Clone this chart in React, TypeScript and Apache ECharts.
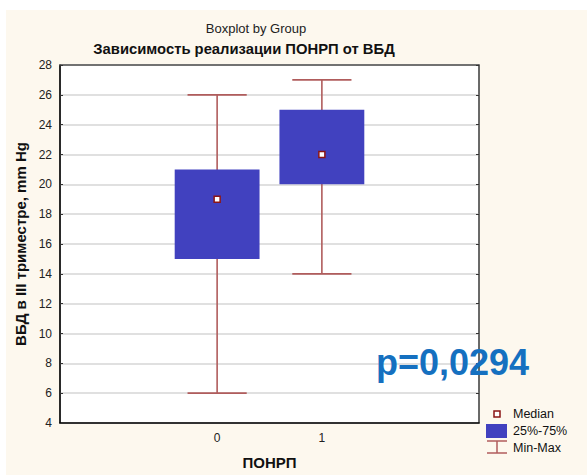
import React, { useEffect, useRef } from "react";
import * as echarts from "echarts";

// Category slots on the horizontal axis (outer slots are empty padding)
const xCategories = ["", "0", "1", ""];
const groups = ["0", "1"];
// Box statistics per group
const minVals = [6, 14];
const q1Vals = [15, 20];
const medianVals = [19, 22];
const q3Vals = [21, 25];
const maxVals = [26, 27];

const FONT = '"Liberation Sans", Arial, sans-serif';
const BOX_COLOR = "#4141bf";
const WHISKER_COLOR = "#b05c5c";
const MEDIAN_STROKE = "#8b1515";

export default function App() {
  const ref = useRef<HTMLDivElement>(null);

  useEffect(() => {
    if (!ref.current) return;
    const chart = echarts.init(ref.current, undefined, { renderer: "svg" });

    const data = groups.map((g, i) => [
      xCategories.indexOf(g),
      minVals[i],
      q1Vals[i],
      medianVals[i],
      q3Vals[i],
      maxVals[i],
    ]);

    const renderItem = (params: any, api: any) => {
      const x = api.value(0);
      const pMin = api.coord([x, api.value(1)]);
      const pQ1 = api.coord([x, api.value(2)]);
      const pMed = api.coord([x, api.value(3)]);
      const pQ3 = api.coord([x, api.value(4)]);
      const pMax = api.coord([x, api.value(5)]);
      const band = api.size([1, 0])[0];
      const boxW = band * 0.81;
      const capW = band * 0.565;
      const cx = pMed[0];
      const whisker = { stroke: WHISKER_COLOR, lineWidth: 1.6 };
      return {
        type: "group",
        children: [
          {
            type: "line",
            shape: { x1: cx, y1: pMin[1], x2: cx, y2: pMax[1] },
            style: whisker,
          },
          {
            type: "line",
            shape: { x1: cx - capW / 2, y1: pMin[1], x2: cx + capW / 2, y2: pMin[1] },
            style: whisker,
          },
          {
            type: "line",
            shape: { x1: cx - capW / 2, y1: pMax[1], x2: cx + capW / 2, y2: pMax[1] },
            style: whisker,
          },
          {
            type: "rect",
            shape: { x: cx - boxW / 2, y: pQ3[1], width: boxW, height: pQ1[1] - pQ3[1] },
            style: { fill: BOX_COLOR },
          },
          {
            type: "rect",
            shape: { x: cx - 3, y: pMed[1] - 3, width: 6, height: 6 },
            style: { fill: "#ffffff", stroke: MEDIAN_STROKE, lineWidth: 1.5 },
          },
        ],
      };
    };

    const legendText = (text: string, y: number) => ({
      type: "text",
      x: 513,
      y,
      style: {
        text,
        font: `12.5px ${FONT}`,
        fill: "#111",
        textVerticalAlign: "middle",
      },
    });

    chart.setOption({
      animation: false,
      textStyle: { fontFamily: FONT },
      title: [
        {
          text: "Boxplot by Group",
          left: 251,
          top: 17,
          textAlign: "center",
          textStyle: { fontSize: 13, fontWeight: "normal", color: "#222", fontFamily: FONT },
        },
        {
          text: "Зависимость реализации ПОНРП от ВБД",
          left: 239,
          top: 36,
          textAlign: "center",
          textStyle: { fontSize: 14.8, fontWeight: "bold", color: "#111", fontFamily: FONT },
        },
      ],
      grid: {
        left: 60,
        top: 65,
        right: 108,
        bottom: 52,
        outerBoundsMode: "none",
        show: true,
        backgroundColor: "#ffffff",
        borderColor: "#555",
        borderWidth: 1,
      },
      xAxis: [
        {
          type: "category",
          data: xCategories,
          boundaryGap: true,
          position: "bottom",
          name: "ПОНРП",
          nameLocation: "middle",
          nameGap: 32,
          nameTextStyle: { fontSize: 15, fontWeight: "bold", color: "#111", fontFamily: FONT },
          axisLine: { lineStyle: { color: "#000", width: 1.5 } },
          axisTick: { alignWithLabel: true, inside: true, length: 3, lineStyle: { color: "#333" } },
          axisLabel: { fontSize: 12, color: "#222", margin: 9 },
          splitLine: { show: false },
        },
        {
          type: "category",
          data: xCategories,
          boundaryGap: true,
          position: "top",
          axisLine: { lineStyle: { color: "#555", width: 1.5 } },
          axisTick: { alignWithLabel: true, inside: true, length: 3, lineStyle: { color: "#333" } },
          axisLabel: { show: false },
          splitLine: { show: false },
        },
      ],
      yAxis: [
        {
          type: "value",
          min: 4,
          max: 28,
          interval: 2,
          position: "left",
          name: "ВБД в III триместре, mm Hg",
          nameLocation: "middle",
          nameGap: 30,
          nameTextStyle: { fontSize: 15, fontWeight: "bold", color: "#111", fontFamily: FONT },
          axisLine: { show: true, lineStyle: { color: "#000", width: 1.5 } },
          axisTick: { show: true, inside: true, length: 3, lineStyle: { color: "#333" } },
          axisLabel: { fontSize: 12, color: "#222", margin: 8 },
          splitLine: { show: true, lineStyle: { color: "#d6d6d6", width: 1.5 } },
        },
        {
          type: "value",
          min: 4,
          max: 28,
          interval: 2,
          position: "right",
          axisLine: { show: true, lineStyle: { color: "#555", width: 1.5 } },
          axisTick: { show: true, inside: true, length: 3, lineStyle: { color: "#333" } },
          axisLabel: { show: false },
          splitLine: { show: false },
        },
      ],
      series: [
        {
          type: "custom",
          xAxisIndex: 0,
          yAxisIndex: 0,
          renderItem,
          encode: { x: 0, y: [1, 2, 3, 4, 5] },
          data,
          z: 5,
        },
      ],
      graphic: [
        {
          type: "text",
          x: 376,
          y: 344,
          z: 10,
          style: {
            text: "p=0,0294",
            font: `bold 36px ${FONT}`,
            fill: "#1570c0",
            textVerticalAlign: "top",
          },
        },
        {
          type: "rect",
          shape: { x: 494, y: 411, width: 6, height: 6 },
          style: { fill: "#fff", stroke: MEDIAN_STROKE, lineWidth: 1.5 },
        },
        legendText("Median", 414),
        {
          type: "rect",
          shape: { x: 486, y: 424, width: 21, height: 14 },
          style: { fill: BOX_COLOR },
        },
        legendText("25%-75%", 431),
        {
          type: "line",
          shape: { x1: 497, y1: 441, x2: 497, y2: 453 },
          style: { stroke: WHISKER_COLOR, lineWidth: 1.5 },
        },
        {
          type: "line",
          shape: { x1: 487, y1: 441, x2: 507, y2: 441 },
          style: { stroke: WHISKER_COLOR, lineWidth: 1.5 },
        },
        {
          type: "line",
          shape: { x1: 487, y1: 453, x2: 507, y2: 453 },
          style: { stroke: WHISKER_COLOR, lineWidth: 1.5 },
        },
        legendText("Min-Max", 448),
      ],
    });

    return () => chart.dispose();
  }, []);

  return (
    <div
      style={{
        position: "fixed",
        left: 0,
        top: 0,
        width: 587,
        height: 475,
        background: "#ffffff",
      }}
    >
      <div
        style={{
          position: "absolute",
          left: 6,
          top: 10,
          right: 0,
          bottom: 0,
          background: "#fdf8ee",
        }}
      />
      <div ref={ref} style={{ position: "absolute", left: 0, top: 0, width: 587, height: 475 }} />
    </div>
  );
}
